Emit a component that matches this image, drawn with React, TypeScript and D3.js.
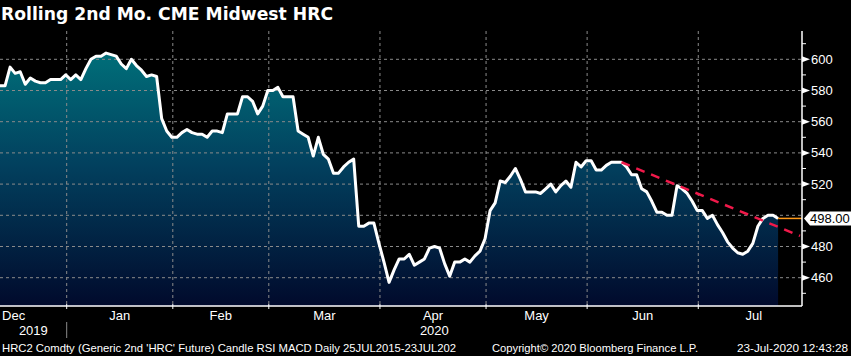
import React from 'react';
import * as d3 from 'd3';

// ---------- DATA ----------
// Trading days (day of month) shown in the chart, by month
const decDays = [11, 12, 13, 16, 17, 18, 19, 20, 23, 24, 26, 27, 30, 31];
const janDays = [2, 3, 6, 7, 8, 9, 10, 13, 14, 15, 16, 17, 21, 22, 23, 24, 27, 28, 29, 30, 31];
const febDays = [3, 4, 5, 6, 7, 10, 11, 12, 13, 14, 18, 19, 20, 21, 24, 25, 26, 27, 28];
const marDays = [2, 3, 4, 5, 6, 9, 10, 11, 12, 13, 16, 17, 18, 19, 20, 23, 24, 25, 26, 27, 30, 31];
const aprDays = [1, 2, 3, 6, 7, 8, 9, 13, 14, 15, 16, 17, 20, 21, 22, 23, 24, 27, 28, 29, 30];
const mayDays = [1, 4, 5, 6, 7, 8, 11, 12, 13, 14, 15, 18, 19, 20, 21, 22, 26, 27, 28, 29];
const junDays = [1, 2, 3, 4, 5, 8, 9, 10, 11, 12, 15, 16, 17, 18, 19, 22, 23, 24, 25, 26, 29, 30];
const julDays = [1, 2, 6, 7, 8, 9, 10, 13, 14, 15, 16, 17, 20, 21, 22, 23];

const monthDays = [decDays, janDays, febDays, marDays, aprDays, mayDays, junDays, julDays];
const monthLabels = ['Dec', 'Jan', 'Feb', 'Mar', 'Apr', 'May', 'Jun', 'Jul'];
// full count of trading days in each month (for month label centring)
const monthTradingDays = [21, 21, 19, 22, 21, 20, 22, 22];
const yearLabels = ['2019', '2020'];

// Price values (USD/short ton), one per trading day
const decPrices = [583, 583, 595, 591, 592, 584, 588, 586, 585, 585, 587, 587, 587, 590];
const janPrices = [587, 590, 587, 594, 600, 602, 602, 604, 603, 602, 597, 594, 600, 596, 593, 589, 590, 589, 562, 554, 550];
const febPrices = [550, 553, 555, 553, 552, 552, 550, 554, 554, 553, 565, 565, 565, 576, 576, 573, 565, 570, 580];
const marPrices = [580, 582, 576, 576, 576, 554, 552, 550, 538, 550, 539, 536, 527, 527, 531, 534, 536, 493, 493, 495, 495, 482];
const aprPrices = [470, 457, 465, 472, 472, 475, 468, 470, 472, 479, 480, 479, 469, 461, 470, 470, 472, 470, 474, 477, 485];
const mayPrices = [503, 508, 522, 521, 525, 530, 523, 515, 515, 515, 514, 517, 520, 515, 519, 522, 518, 534, 531, 535];
const junPrices = [535, 529, 529, 532, 534, 534, 534, 531, 526, 526, 517, 515, 509, 502, 502, 500, 500, 519, 517, 514, 509, 503];
const julPrices = [503, 498, 500, 494, 489, 483, 479, 476, 475, 477, 482, 493, 498, 500, 500, 498];

const prices = [
  ...decPrices, ...janPrices, ...febPrices, ...marPrices,
  ...aprPrices, ...mayPrices, ...junPrices, ...julPrices,
];

const yTicks = [460, 480, 500, 520, 540, 560, 580, 600];
const yMinorTicks = [450, 470, 490, 510, 530, 550, 570, 590, 610];
const lastPriceLabel = '498.00';
const lastPrice = 498;

// Trendline through the Jun 10 and Jun 25 highs (trading-day index, value)
const trendA = { idx: 123, v: 534 };
const trendB = { idx: 134, v: 519.3 };

const titleText = 'Rolling 2nd Mo. CME Midwest HRC';
const footerLeft = "HRC2 Comdty (Generic 2nd 'HRC' Future) Candle RSI MACD  Daily 25JUL2015-23JUL202";
const footerMid = 'Copyright\u00A9 2020 Bloomberg Finance L.P.';
const footerRight = '23-Jul-2020 12:43:28';

// ---------- LAYOUT ----------
const W = 851;
const H = 356;
const plotTop = 31;
const plotBottom = 306;
const axisX = 802;
const FONT = "'DejaVu Sans', Verdana, sans-serif";
const LFONT = "'Liberation Sans', Arial, sans-serif";

export default function App() {
  const n = prices.length;
  const x = d3.scaleLinear().domain([0, n - 1]).range([0, 778.1]);
  const y = d3.scaleLinear().domain([460, 600]).range([277.7, 59.3]);

  // month start indices in the data array
  const starts: number[] = [];
  let acc = 0;
  monthDays.forEach((m) => { starts.push(acc); acc += m.length; });
  const boundIdx = monthDays.map((_, i) => (i === 0 ? starts[1] - monthTradingDays[0] : starts[i]));
  const bx = (idx: number) => x(idx - 0.8);
  const gridMonthX = boundIdx.slice(1).map(bx);
  const monthCenters = monthLabels.map((_, i) => {
    const s = bx(boundIdx[i]);
    const e = i < monthLabels.length - 1 ? bx(boundIdx[i + 1]) : bx(boundIdx[i] + monthTradingDays[i]);
    return (s + e) / 2;
  });
  const janX = bx(boundIdx[1]);

  const line = d3.line<number>().x((_, i) => x(i)).y((d) => y(d));
  const area = d3.area<number>().x((_, i) => x(i)).y0(plotBottom).y1((d) => y(d));

  const slope = (trendB.v - trendA.v) / (trendB.idx - trendA.idx);
  const trendEndIdx = x.invert(axisX - 2);
  const trendEndV = trendA.v + slope * (trendEndIdx - trendA.idx);

  const lastY = y(lastPrice);

  return (
    <svg width={W} height={H} style={{ position: 'absolute', left: 0, top: 0, display: 'block', background: '#000' }}>
      <defs>
        <linearGradient id="areaGrad" gradientUnits="userSpaceOnUse" x1="0" y1={50} x2="0" y2={plotBottom}>
          <stop offset="0%" stopColor="#00707a" />
          <stop offset="45%" stopColor="#02405e" />
          <stop offset="100%" stopColor="#010a2c" />
        </linearGradient>
        <clipPath id="plotClip">
          <rect x={0} y={plotTop} width={axisX} height={plotBottom - plotTop} />
        </clipPath>
      </defs>
      <rect x={0} y={0} width={W} height={H} fill="#000" />

      {/* title */}
      <text x={1} y={20} fill="#fff" fontFamily={FONT} fontWeight="bold" fontSize={17}
        textLength={332} lengthAdjust="spacingAndGlyphs">{titleText}</text>

      <g clipPath="url(#plotClip)">
        <path d={area(prices) || ''} fill="url(#areaGrad)" />
        {yTicks.map((t) => (
          <line key={'h' + t} x1={0} x2={axisX} y1={y(t)} y2={y(t)} stroke="#8a8a8a" strokeWidth={1} strokeDasharray="3,3" />
        ))}
        {gridMonthX.map((gx, i) => (
          <line key={'v' + i} x1={gx} x2={gx} y1={plotTop} y2={plotBottom} stroke="#8a8a8a" strokeWidth={1} strokeDasharray="3,3" />
        ))}
        <path d={line(prices) || ''} fill="none" stroke="#fff" strokeWidth={3} strokeLinejoin="round" />
        <line x1={x(trendA.idx)} y1={y(trendA.v)} x2={x(trendEndIdx)} y2={y(trendEndV)}
          stroke="#f0194a" strokeWidth={2.5} strokeDasharray="9,7" />
        <line x1={x(n - 1)} x2={axisX} y1={lastY} y2={lastY} stroke="#ff9a1a" strokeWidth={1.5} />
      </g>

      {/* axes */}
      <line x1={0} x2={axisX} y1={plotBottom} y2={plotBottom} stroke="#fff" strokeWidth={1.5} />
      <line x1={axisX} x2={axisX} y1={plotTop} y2={plotBottom} stroke="#fff" strokeWidth={1.5} />
      {gridMonthX.map((gx, i) => (
        <line key={'bt' + i} x1={gx} x2={gx} y1={plotBottom - 2} y2={plotBottom + 3} stroke="#fff" strokeWidth={1} />
      ))}
      {yMinorTicks.map((t) => (
        <line key={'mt' + t} x1={axisX} x2={axisX + 4} y1={y(t)} y2={y(t)} stroke="#fff" strokeWidth={1} />
      ))}
      {yTicks.filter((t) => t !== 500).map((t) => (
        <g key={'yt' + t}>
          <path d={`M${axisX},${y(t) - 3}L${axisX + 8},${y(t)}L${axisX},${y(t) + 3}Z`} fill="#fff" />
          <text x={axisX + 9} y={y(t) + 4.5} fill="#fff" fontFamily={LFONT} fontSize={13}>{t}</text>
        </g>
      ))}

      {/* last price label */}
      <path d={`M${axisX + 2},${lastY}L${axisX + 8},${lastY - 7}L${W},${lastY - 7}L${W},${lastY + 7}L${axisX + 8},${lastY + 7}Z`} fill="#fff" />
      <text x={axisX + 8} y={lastY + 4.5} fill="#000" fontFamily={LFONT} fontSize={13}>{lastPriceLabel}</text>

      {/* month labels */}
      {monthLabels.map((m, i) => (
        <text key={m} x={monthCenters[i]} y={320} fill="#fff" fontFamily={LFONT} fontSize={13} textAnchor="middle">{m}</text>
      ))}
      <text x={janX / 2} y={335} fill="#fff" fontFamily={LFONT} fontSize={13} textAnchor="middle">{yearLabels[0]}</text>
      <text x={(janX + axisX) / 2} y={335} fill="#fff" fontFamily={LFONT} fontSize={13} textAnchor="middle">{yearLabels[1]}</text>
      <line x1={janX} x2={janX} y1={322} y2={338} stroke="#8a8a8a" strokeWidth={1} />

      {/* footer */}
      <text x={2} y={352} fill="#fff" fontFamily={LFONT} fontSize={11.5} textLength={454} lengthAdjust="spacingAndGlyphs">{footerLeft}</text>
      <text x={492} y={352} fill="#fff" fontFamily={LFONT} fontSize={11.5} textLength={206} lengthAdjust="spacingAndGlyphs">{footerMid}</text>
      <text x={737} y={352} fill="#fff" fontFamily={LFONT} fontSize={11.5} textLength={111} lengthAdjust="spacingAndGlyphs">{footerRight}</text>
    </svg>
  );
}
